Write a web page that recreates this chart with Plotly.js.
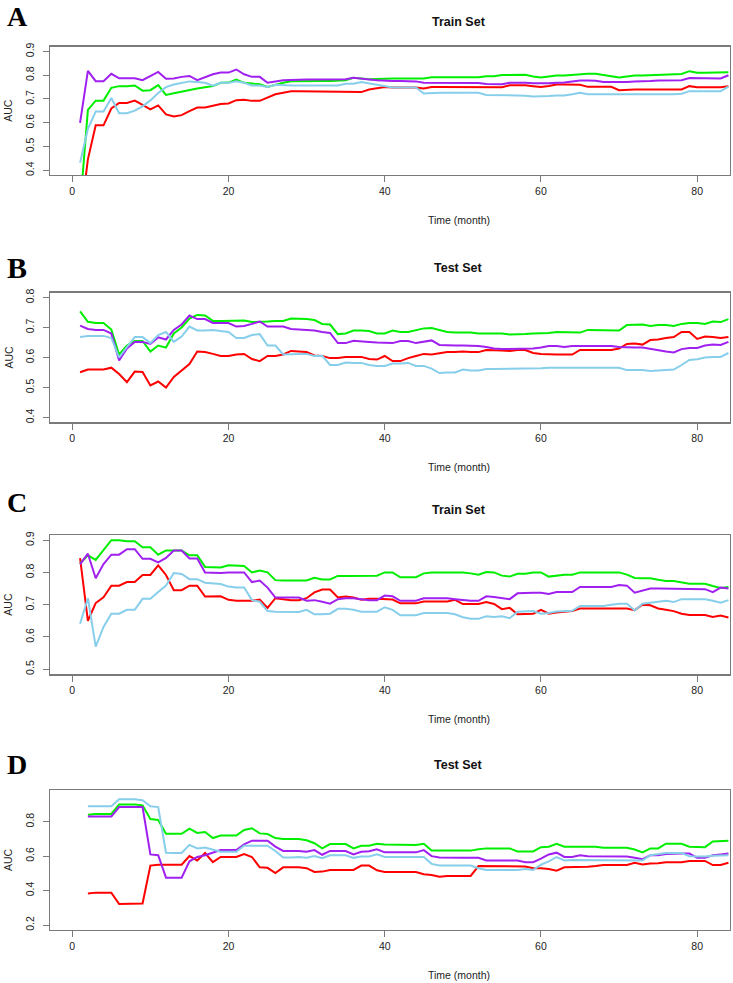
<!DOCTYPE html>
<html>
<head>
<meta charset="utf-8">
<script src="https://cdn.plot.ly/plotly-3.0.1.min.js"></script>
<style>html,body{margin:0;padding:0;background:#fff;}#chart{width:733px;height:983px;}</style>
</head>
<body>
<div id="chart"></div>
<script>
// ---------- data ----------
const monthsAll = [];
for (let m = 1; m <= 84; m++) monthsAll.push(m);

const panelLetters = ["A", "B", "C", "D"];
const panelTitles = ["Train Set", "Test Set", "Train Set", "Test Set"];
const xTickVals = [0, 20, 40, 60, 80];
const yTickVals = [[0.4,0.5,0.6,0.7,0.8,0.9],[0.4,0.5,0.6,0.7,0.8],[0.5,0.6,0.7,0.8,0.9],[0.2,0.4,0.6,0.8]];
const seriesNames = ["red", "green", "purple", "skyblue"];

// Panel A (Train Set)
const A_red = [0.18,0.446,0.589,0.589,0.660,0.683,0.683,0.693,0.675,0.656,
 0.673,0.635,0.626,0.632,0.649,0.664,0.664,0.671,0.679,0.681,
 0.695,0.697,0.692,0.692,0.706,0.720,0.726,0.732,0.732,0.732,
 0.732,0.732,0.732,0.732,0.732,0.732,0.729,0.740,0.746,0.750,
 0.748,0.748,0.748,0.748,0.744,0.750,0.750,0.750,0.750,0.750,
 0.750,0.750,0.749,0.749,0.749,0.758,0.758,0.758,0.754,0.750,
 0.755,0.761,0.761,0.761,0.760,0.751,0.751,0.751,0.751,0.737,
 0.740,0.740,0.740,0.740,0.740,0.740,0.740,0.740,0.754,0.749,
 0.749,0.749,0.749,0.754];
const A_green = [0.244,0.654,0.693,0.693,0.747,0.754,0.754,0.757,0.735,0.737,
 0.758,0.717,0.724,0.731,0.740,0.744,0.749,0.754,0.768,0.769,
 0.782,0.768,0.765,0.762,0.751,0.761,0.768,0.775,0.776,0.776,
 0.776,0.776,0.776,0.777,0.779,0.789,0.785,0.783,0.784,0.786,
 0.786,0.786,0.786,0.789,0.786,0.791,0.791,0.791,0.791,0.791,
 0.791,0.791,0.796,0.796,0.801,0.801,0.801,0.802,0.795,0.790,
 0.795,0.799,0.799,0.802,0.806,0.806,0.806,0.802,0.796,0.790,
 0.795,0.799,0.799,0.800,0.804,0.804,0.804,0.805,0.817,0.810,
 0.810,0.810,0.811,0.812];
const A_purple = [0.599,0.818,0.775,0.775,0.806,0.787,0.787,0.787,0.779,0.797,
 0.814,0.785,0.786,0.793,0.797,0.779,0.793,0.804,0.811,0.811,
 0.824,0.804,0.793,0.793,0.768,0.775,0.779,0.780,0.782,0.782,
 0.782,0.782,0.782,0.782,0.783,0.789,0.784,0.782,0.779,0.776,
 0.776,0.776,0.776,0.774,0.768,0.768,0.768,0.768,0.769,0.769,
 0.768,0.767,0.763,0.762,0.762,0.768,0.769,0.768,0.766,0.765,
 0.766,0.768,0.769,0.774,0.778,0.778,0.777,0.771,0.770,0.769,
 0.771,0.774,0.774,0.776,0.778,0.778,0.778,0.779,0.788,0.788,
 0.788,0.787,0.786,0.800];
const A_skyblue = [0.432,0.574,0.647,0.647,0.704,0.640,0.640,0.651,0.669,0.694,
 0.725,0.750,0.761,0.768,0.774,0.771,0.768,0.756,0.768,0.768,
 0.775,0.768,0.757,0.757,0.750,0.760,0.757,0.757,0.757,0.757,
 0.757,0.757,0.757,0.757,0.764,0.764,0.771,0.765,0.757,0.753,
 0.748,0.748,0.748,0.748,0.723,0.726,0.726,0.726,0.726,0.726,
 0.726,0.726,0.717,0.717,0.717,0.717,0.717,0.714,0.710,0.710,
 0.712,0.715,0.715,0.720,0.726,0.720,0.720,0.720,0.720,0.717,
 0.717,0.717,0.720,0.720,0.720,0.720,0.720,0.722,0.733,0.733,
 0.733,0.733,0.733,0.752];

// Panel B (Test Set)
const B_red = [0.551,0.560,0.560,0.560,0.566,0.545,0.518,0.553,0.552,0.507,
 0.520,0.500,0.535,0.555,0.578,0.620,0.618,0.612,0.605,0.605,
 0.610,0.612,0.595,0.588,0.605,0.605,0.610,0.622,0.620,0.618,
 0.607,0.605,0.598,0.598,0.602,0.603,0.602,0.595,0.593,0.605,
 0.588,0.588,0.598,0.605,0.612,0.610,0.613,0.618,0.618,0.620,
 0.618,0.618,0.625,0.625,0.623,0.622,0.625,0.625,0.615,0.612,
 0.610,0.610,0.610,0.610,0.625,0.625,0.625,0.625,0.625,0.630,
 0.645,0.647,0.643,0.658,0.660,0.665,0.668,0.685,0.685,0.662,
 0.670,0.668,0.665,0.668];
const B_green = [0.754,0.719,0.715,0.715,0.693,0.610,0.640,0.655,0.655,0.620,
 0.640,0.633,0.680,0.700,0.730,0.742,0.740,0.722,0.722,0.722,
 0.722,0.723,0.718,0.718,0.720,0.722,0.722,0.730,0.730,0.728,
 0.725,0.712,0.710,0.678,0.680,0.690,0.690,0.688,0.680,0.680,
 0.690,0.685,0.685,0.690,0.697,0.698,0.692,0.685,0.683,0.683,
 0.683,0.680,0.680,0.680,0.680,0.677,0.677,0.678,0.680,0.680,
 0.682,0.685,0.685,0.683,0.683,0.692,0.692,0.692,0.692,0.690,
 0.708,0.710,0.710,0.705,0.708,0.708,0.705,0.712,0.715,0.715,
 0.712,0.720,0.718,0.728];
const B_purple = [0.706,0.695,0.692,0.692,0.680,0.590,0.630,0.652,0.652,0.645,
 0.667,0.660,0.692,0.710,0.740,0.728,0.728,0.715,0.715,0.715,
 0.703,0.705,0.712,0.720,0.703,0.703,0.703,0.695,0.693,0.693,
 0.690,0.685,0.682,0.648,0.648,0.656,0.655,0.652,0.650,0.648,
 0.648,0.655,0.655,0.648,0.652,0.657,0.642,0.640,0.640,0.640,
 0.640,0.638,0.635,0.630,0.628,0.628,0.628,0.628,0.630,0.633,
 0.638,0.638,0.635,0.638,0.638,0.638,0.638,0.638,0.638,0.635,
 0.633,0.633,0.633,0.628,0.625,0.620,0.617,0.628,0.632,0.632,
 0.640,0.643,0.642,0.652];
const B_skyblue = [0.668,0.672,0.672,0.672,0.665,0.600,0.635,0.668,0.668,0.648,
 0.675,0.685,0.652,0.670,0.703,0.690,0.690,0.692,0.688,0.685,
 0.665,0.665,0.675,0.678,0.640,0.640,0.610,0.612,0.612,0.612,
 0.605,0.606,0.575,0.575,0.583,0.582,0.582,0.575,0.572,0.572,
 0.580,0.580,0.582,0.572,0.572,0.563,0.548,0.550,0.550,0.560,
 0.557,0.557,0.562,0.562,0.562,0.562,0.562,0.562,0.564,0.564,
 0.566,0.566,0.564,0.564,0.564,0.564,0.565,0.565,0.565,0.566,
 0.558,0.558,0.558,0.555,0.557,0.560,0.560,0.575,0.592,0.594,
 0.600,0.602,0.602,0.615];

// Panel C (Train Set)
const C_red = [0.844,0.650,0.705,0.723,0.759,0.759,0.770,0.770,0.792,0.792,
 0.822,0.792,0.745,0.745,0.759,0.759,0.725,0.725,0.726,0.715,
 0.712,0.712,0.712,0.716,0.690,0.720,0.717,0.714,0.714,0.720,
 0.738,0.747,0.747,0.722,0.725,0.722,0.715,0.718,0.718,0.718,
 0.716,0.704,0.704,0.704,0.710,0.710,0.710,0.710,0.715,0.702,
 0.702,0.702,0.708,0.702,0.686,0.690,0.670,0.670,0.672,0.684,
 0.672,0.676,0.678,0.680,0.688,0.688,0.688,0.688,0.688,0.688,
 0.688,0.683,0.700,0.698,0.688,0.684,0.680,0.672,0.668,0.668,
 0.668,0.662,0.666,0.660];
const C_green = [0.828,0.853,0.839,0.870,0.900,0.900,0.897,0.897,0.878,0.878,
 0.855,0.868,0.868,0.868,0.853,0.853,0.817,0.817,0.815,0.822,
 0.822,0.820,0.800,0.806,0.800,0.776,0.775,0.775,0.773,0.775,
 0.783,0.778,0.778,0.789,0.789,0.789,0.790,0.790,0.790,0.800,
 0.800,0.785,0.785,0.785,0.797,0.800,0.800,0.800,0.800,0.800,
 0.797,0.793,0.801,0.800,0.790,0.787,0.796,0.796,0.800,0.800,
 0.787,0.790,0.793,0.793,0.800,0.800,0.800,0.800,0.800,0.800,
 0.793,0.783,0.782,0.782,0.777,0.773,0.773,0.770,0.765,0.765,
 0.765,0.758,0.752,0.755];
const C_purple = [0.825,0.858,0.782,0.826,0.855,0.855,0.872,0.872,0.842,0.842,
 0.831,0.845,0.868,0.868,0.843,0.843,0.800,0.798,0.798,0.800,
 0.800,0.800,0.770,0.775,0.753,0.722,0.722,0.722,0.722,0.712,
 0.714,0.709,0.703,0.717,0.720,0.720,0.717,0.714,0.714,0.728,
 0.726,0.712,0.712,0.712,0.720,0.720,0.720,0.720,0.717,0.714,
 0.712,0.712,0.726,0.724,0.720,0.717,0.735,0.737,0.737,0.737,
 0.733,0.739,0.739,0.739,0.755,0.755,0.755,0.755,0.755,0.761,
 0.759,0.737,0.744,0.750,0.750,0.750,0.750,0.748,0.748,0.748,
 0.748,0.739,0.753,0.750];
const C_skyblue = [0.641,0.720,0.570,0.631,0.672,0.672,0.684,0.684,0.718,0.718,
 0.739,0.759,0.798,0.795,0.779,0.779,0.768,0.766,0.764,0.756,
 0.753,0.753,0.714,0.709,0.680,0.678,0.677,0.677,0.677,0.684,
 0.670,0.670,0.672,0.687,0.687,0.684,0.678,0.678,0.678,0.692,
 0.684,0.667,0.667,0.667,0.674,0.674,0.674,0.674,0.670,0.661,
 0.656,0.656,0.664,0.662,0.664,0.658,0.678,0.678,0.680,0.672,
 0.674,0.679,0.681,0.681,0.696,0.696,0.696,0.696,0.700,0.703,
 0.703,0.682,0.703,0.705,0.709,0.712,0.708,0.717,0.717,0.717,
 0.717,0.712,0.706,0.714];

// Panel D (Test Set) - no value at month 1
const D_red = [null,0.383,0.388,0.388,0.388,0.322,0.322,0.322,0.325,0.545,
 0.550,0.550,0.550,0.550,0.600,0.575,0.618,0.565,0.595,0.595,
 0.595,0.612,0.595,0.535,0.532,0.502,0.535,0.535,0.535,0.530,
 0.508,0.510,0.520,0.520,0.520,0.520,0.545,0.545,0.518,0.508,
 0.508,0.508,0.508,0.508,0.495,0.490,0.480,0.485,0.485,0.485,
 0.485,0.542,0.542,0.542,0.542,0.542,0.542,0.540,0.530,0.530,
 0.525,0.515,0.535,0.535,0.535,0.538,0.542,0.548,0.548,0.548,
 0.548,0.562,0.552,0.557,0.558,0.565,0.565,0.565,0.572,0.572,
 0.572,0.548,0.548,0.562];
const D_green = [null,0.840,0.845,0.845,0.845,0.900,0.900,0.900,0.895,0.815,
 0.810,0.730,0.730,0.730,0.760,0.735,0.740,0.705,0.720,0.720,
 0.720,0.752,0.762,0.732,0.728,0.705,0.700,0.700,0.700,0.692,
 0.675,0.645,0.670,0.670,0.670,0.645,0.660,0.660,0.672,0.668,
 0.668,0.668,0.668,0.665,0.672,0.632,0.632,0.632,0.632,0.632,
 0.632,0.640,0.645,0.645,0.645,0.645,0.627,0.627,0.627,0.652,
 0.655,0.672,0.655,0.655,0.655,0.655,0.655,0.648,0.648,0.648,
 0.648,0.638,0.622,0.645,0.645,0.672,0.672,0.672,0.655,0.652,
 0.652,0.685,0.688,0.690];
const D_purple = [null,0.830,0.830,0.830,0.830,0.885,0.885,0.885,0.885,0.610,
 0.605,0.475,0.475,0.475,0.570,0.595,0.605,0.622,0.635,0.635,
 0.635,0.668,0.690,0.690,0.690,0.655,0.630,0.630,0.630,0.625,
 0.635,0.608,0.630,0.630,0.630,0.610,0.625,0.628,0.640,0.622,
 0.622,0.622,0.622,0.622,0.635,0.600,0.592,0.590,0.590,0.590,
 0.590,0.590,0.575,0.575,0.575,0.575,0.575,0.565,0.565,0.585,
 0.610,0.620,0.595,0.595,0.605,0.600,0.600,0.600,0.600,0.600,
 0.598,0.590,0.582,0.605,0.605,0.612,0.615,0.615,0.615,0.590,
 0.590,0.605,0.610,0.615];
const D_skyblue = [null,0.890,0.890,0.890,0.890,0.930,0.930,0.930,0.925,0.890,
 0.885,0.620,0.618,0.618,0.665,0.645,0.650,0.638,0.625,0.625,
 0.625,0.660,0.660,0.660,0.660,0.630,0.592,0.592,0.595,0.590,
 0.600,0.588,0.605,0.605,0.605,0.590,0.598,0.598,0.610,0.595,
 0.595,0.595,0.595,0.595,0.595,0.555,0.545,0.545,0.545,0.545,
 0.545,0.530,0.520,0.520,0.520,0.520,0.520,0.525,0.520,0.550,
 0.570,0.595,0.575,0.578,0.578,0.578,0.578,0.578,0.578,0.578,
 0.578,0.578,0.575,0.605,0.610,0.618,0.618,0.618,0.600,0.598,
 0.598,0.602,0.602,0.605];

const panelData = [
  [A_red, A_green, A_purple, A_skyblue],
  [B_red, B_green, B_purple, B_skyblue],
  [C_red, C_green, C_purple, C_skyblue],
  [D_red, D_green, D_purple, D_skyblue]
];

// ---------- styling / layout ----------
const W = 733, H = 983;
const colors = ["#FF0000", "#00EE00", "#A020F0", "#87CEEB"];
const boxLeft = 50, boxRight = 730;
const boxes = [[46.7, 175], [292.7, 422.3], [535, 674.3], [790, 930]]; // top, bottom (px)
const yRanges = [[0.38, 0.92], [0.384, 0.816], [0.484, 0.916], [0.171, 0.984]];
const xRange = [-2.85, 84.2];
const letterY = [17, 267, 502, 764];
const letterSize = [28, 30, 28, 28];
const centerX = 459;
const font = "Liberation Sans, Arial, sans-serif";

const traces = [];
const layout = {
  width: W, height: H,
  margin: {l: 0, r: 0, t: 0, b: 0},
  paper_bgcolor: "#ffffff", plot_bgcolor: "#ffffff",
  showlegend: false,
  font: {family: font, size: 10.5, color: "#222"},
  annotations: []
};

for (let p = 0; p < 4; p++) {
  const sfx = p === 0 ? "" : String(p + 1);
  for (let s = 0; s < 4; s++) {
    traces.push({
      type: "scatter", mode: "lines",
      x: monthsAll, y: panelData[p][s],
      name: seriesNames[s],
      xaxis: "x" + sfx, yaxis: "y" + sfx,
      line: {color: colors[s], width: 2},
      connectgaps: false, hoverinfo: "skip"
    });
  }
  const [top, bot] = boxes[p];
  const common = {
    showline: true, mirror: true, linecolor: "#7a7a7a", linewidth: 1.3,
    ticks: "outside", ticklen: 6, tickcolor: "#7a7a7a", tickwidth: 1,
    showgrid: false, zeroline: false,
    tickfont: {family: font, size: 10.5, color: "#222"}
  };
  layout["xaxis" + sfx] = Object.assign({}, common, {
    domain: [boxLeft / W, boxRight / W],
    anchor: "y" + sfx,
    range: xRange, tickmode: "array", tickvals: xTickVals
  });
  layout["yaxis" + sfx] = Object.assign({}, common, {
    domain: [1 - bot / H, 1 - top / H],
    anchor: "x" + sfx,
    range: yRanges[p], tickmode: "array", tickvals: yTickVals[p],
    ticktext: yTickVals[p].map(v => v.toFixed(1)),
    tickangle: -90, ticklabelstandoff: 5
  });
  // panel letter
  layout.annotations.push({
    text: "<b>" + panelLetters[p] + "</b>", showarrow: false,
    xref: "paper", yref: "paper", x: 5 / W, y: 1 - letterY[p] / H,
    xanchor: "left", yanchor: "middle",
    font: {family: "Liberation Serif, Times New Roman, serif", size: letterSize[p], color: "#000"}
  });
  // panel title
  layout.annotations.push({
    text: "<b>" + panelTitles[p] + "</b>", showarrow: false,
    xref: "paper", yref: "paper", x: centerX / W, y: 1 - (top - 25) / H,
    xanchor: "center", yanchor: "middle",
    font: {family: font, size: 12.5, color: "#111"}
  });
  // x axis title
  layout.annotations.push({
    text: "Time (month)", showarrow: false,
    xref: "paper", yref: "paper", x: centerX / W, y: 1 - (bot + 45) / H,
    xanchor: "center", yanchor: "middle",
    font: {family: font, size: 10.5, color: "#222"}
  });
  // y axis title
  layout.annotations.push({
    text: "AUC", showarrow: false, textangle: -90,
    xref: "paper", yref: "paper", x: 8 / W, y: 1 - ((top + bot) / 2) / H,
    xanchor: "center", yanchor: "middle",
    font: {family: font, size: 10.5, color: "#222"}
  });
}

Plotly.newPlot("chart", traces, layout, {staticPlot: true, displayModeBar: false});
</script>
</body>
</html>
